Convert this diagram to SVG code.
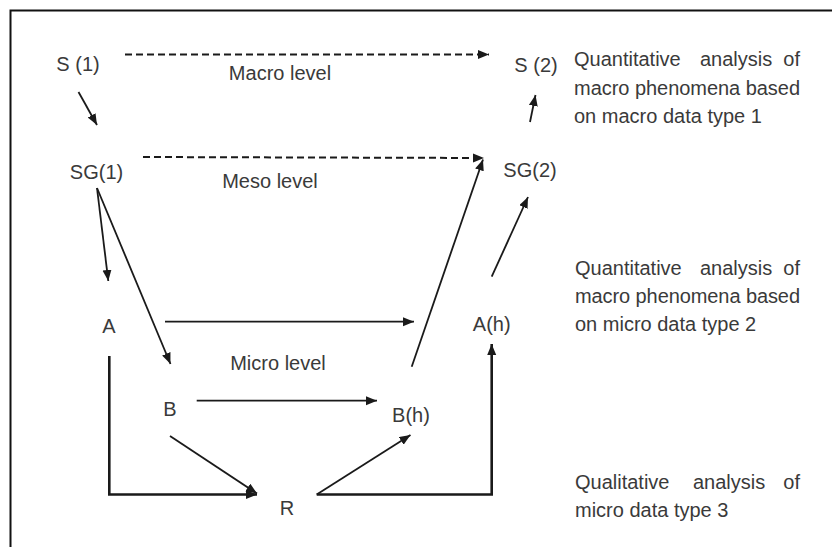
<svg xmlns="http://www.w3.org/2000/svg" width="832" height="547" viewBox="0 0 832 547">
<defs>
<marker id="ah" markerUnits="userSpaceOnUse" markerWidth="12" markerHeight="10" refX="11" refY="4.5" orient="auto"><path d="M0,0 L11,4.5 L0,9 z" fill="#1a1a1a"/></marker>
<style>
text{font-family:"Liberation Sans",Arial,sans-serif;font-size:20px;fill:#3a3a3a}
.n{text-anchor:middle}
.c{fill:none;stroke:#1a1a1a;stroke-width:1.8;marker-end:url(#ah)}
.d{stroke-dasharray:7 4;stroke-width:2}
.t{stroke-width:2.6}
</style>
</defs>
<rect width="832" height="547" fill="#fff"/>
<path d="M10.5,548 V10.5 H833" fill="none" stroke="#111" stroke-width="2"/>
<g id="connectors">
<line class="c d" x1="125" y1="54.5" x2="489" y2="54.5"/>
<line class="c d" x1="143" y1="157" x2="484" y2="158"/>
<line class="c" x1="78.5" y1="92" x2="97" y2="125"/>
<line class="c" x1="530" y1="122" x2="535.5" y2="95"/>
<line class="c" x1="97" y1="188" x2="108.3" y2="281"/>
<line class="c" x1="97" y1="188" x2="170.5" y2="364"/>
<line class="c" x1="165" y1="321.7" x2="414" y2="321.7"/>
<line class="c" x1="196.7" y1="400.7" x2="377" y2="400.7"/>
<line class="c" x1="411.7" y1="366.7" x2="483" y2="159.5"/>
<line class="c" x1="491.7" y1="276.7" x2="528" y2="197"/>
<line class="c" x1="170" y1="436" x2="257" y2="493.5"/>
<line class="c" x1="316.7" y1="494.5" x2="410.5" y2="435"/>
<path class="c t" d="M109.3,356 V494.5 H257"/>
<path class="c t" d="M316.7,494.5 H491.7 V344"/>
</g>
<g id="S1"><text class="n" x="78" y="71">S (1)</text></g>
<g id="S2"><text class="n" x="536" y="72">S (2)</text></g>
<g id="SG1"><text class="n" x="96.5" y="179">SG(1)</text></g>
<g id="SG2"><text class="n" x="530" y="177">SG(2)</text></g>
<g id="A"><text class="n" x="109" y="333">A</text></g>
<g id="Ah"><text class="n" x="491.7" y="331">A(h)</text></g>
<g id="B"><text class="n" x="170" y="416">B</text></g>
<g id="Bh"><text class="n" x="411" y="422">B(h)</text></g>
<g id="R"><text class="n" x="287" y="515">R</text></g>
<g id="levels">
<text class="n" x="280" y="80">Macro level</text>
<text class="n" x="270" y="188">Meso level</text>
<text class="n" x="278" y="370">Micro level</text>
</g>
<g id="desc1">
<text x="574" y="66">Quantitative</text>
<text x="700" y="66">analysis</text>
<text x="800" y="66" text-anchor="end">of</text>
<text x="574" y="95" textLength="226" lengthAdjust="spacing">macro phenomena based</text>
<text x="574" y="123">on macro data type 1</text>
</g>
<g id="desc2">
<text x="575" y="275">Quantitative</text>
<text x="700" y="275">analysis</text>
<text x="800" y="275" text-anchor="end">of</text>
<text x="575" y="303" textLength="225" lengthAdjust="spacing">macro phenomena based</text>
<text x="575" y="331">on micro data type 2</text>
</g>
<g id="desc3">
<text x="575" y="489">Qualitative</text>
<text x="693" y="489">analysis</text>
<text x="800" y="489" text-anchor="end">of</text>
<text x="575" y="517">micro data type 3</text>
</g>
</svg>
